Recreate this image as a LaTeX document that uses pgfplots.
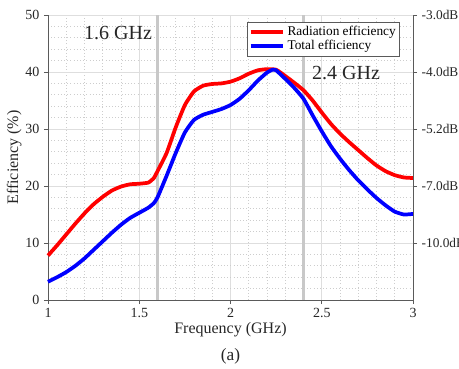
\documentclass[border=0pt]{standalone}
\usepackage{fontspec}
\setmainfont{Liberation Serif}
\usepackage{pgfplots}
\pgfplotsset{compat=1.18}
\definecolor{axgray}{RGB}{90,90,90}
\definecolor{gridmaj}{RGB}{222,222,222}
\definecolor{gridmin}{RGB}{205,205,205}
\definecolor{vline}{RGB}{200,200,200}
\begin{document}
\begin{tikzpicture}
\path[use as bounding box] (-36pt,-51pt) rectangle (308.25pt,225pt);
\begin{axis}[
  name=ax,
  scale only axis,
  width=273.75pt, height=213.75pt,
  xmin=1, xmax=3, ymin=0, ymax=50,
  xtick={1,1.5,2,2.5,3},
  xticklabels={1,1.5,2,2.5,3},
  ytick={0,10,20,30,40,50},
  minor x tick num=4,
  minor y tick num=4,
  grid=both,
  major grid style={gridmaj, line width=0.6pt},
  minor grid style={gridmin, dotted, line width=0.5pt},
  axis line style={axgray, line width=0.6pt},
  tick style={axgray, line width=0.6pt},
  tick align=outside,
  major tick length=3pt,
  minor tick length=0pt,
  axis y line*=left,
  axis x line*=bottom,
  /pgf/number format/assume math mode=true,
  tick label style={font=\fontsize{10.5}{12}\selectfont, text=black!85},
  xlabel={Frequency (GHz)},
  ylabel={Efficiency (\%)},
  label style={font=\fontsize{12}{14}\selectfont, text=black!85},
  xlabel style={yshift=4pt},
  ylabel style={yshift=-4pt},
  legend style={at={(0.545,0.975)}, anchor=north west, draw=axgray, line width=0.6pt,
    font=\fontsize{10}{11}\selectfont, inner sep=1pt, row sep=-2pt,
    cells={anchor=west}},
  legend image code/.code={\draw[#1, line width=3pt] (0,0) -- (0.85cm,0);},
  clip=false,
]
\addplot[vline, line width=2.4pt, forget plot] coordinates {(1.6,0) (1.6,50)};
\addplot[vline, line width=2.4pt, forget plot] coordinates {(2.4,0) (2.4,50)};
\addplot[red, line width=2.8pt, smooth, tension=0.3] coordinates {
(1.00,7.8) (1.05,9.6) (1.10,11.5) (1.15,13.4) (1.20,15.2) (1.25,16.8) (1.30,18.1)
(1.35,19.2) (1.40,19.9) (1.45,20.3) (1.50,20.4) (1.55,20.6) (1.58,21.4) (1.60,22.6)
(1.65,25.8) (1.70,30.3) (1.75,34.2) (1.80,36.6) (1.85,37.6) (1.90,37.9) (1.95,38.0)
(2.00,38.3) (2.05,38.9) (2.10,39.7) (2.15,40.3) (2.20,40.5) (2.25,40.4) (2.30,39.3)
(2.35,38.1) (2.40,36.8) (2.45,35.0) (2.50,32.9) (2.55,30.9) (2.60,29.2) (2.65,27.7)
(2.70,26.3) (2.75,24.9) (2.80,23.6) (2.85,22.6) (2.90,21.9) (2.95,21.5) (3.00,21.4)};
\addlegendentry{Radiation efficiency}
\addplot[blue, line width=2.8pt, smooth, tension=0.3] coordinates {
(1.00,3.2) (1.05,4.0) (1.10,4.9) (1.15,6.0) (1.20,7.3) (1.25,8.8) (1.30,10.3)
(1.35,11.8) (1.40,13.2) (1.45,14.4) (1.50,15.3) (1.55,16.2) (1.58,17.0) (1.60,18.0)
(1.65,21.8) (1.70,25.8) (1.75,29.4) (1.80,31.6) (1.85,32.5) (1.90,33.0) (1.95,33.5)
(2.00,34.2) (2.05,35.3) (2.10,36.8) (2.15,38.5) (2.20,39.9) (2.23,40.4) (2.25,40.3)
(2.30,38.8) (2.35,37.2) (2.40,35.3) (2.45,32.4) (2.50,29.6) (2.55,27.0) (2.60,24.8)
(2.65,22.8) (2.70,21.0) (2.75,19.4) (2.80,17.9) (2.85,16.6) (2.90,15.5) (2.95,15.0) (3.00,15.1)};
\addlegendentry{Total efficiency}
\node[font=\fontsize{15}{17}\selectfont, text=black!85] at (axis cs:1.384,46.9) {1.6 GHz};
\node[font=\fontsize{15}{17}\selectfont, text=black!85] at (axis cs:2.633,39.9) {2.4 GHz};
\node[font=\fontsize{13}{15}\selectfont, text=black!85] at (axis description cs:0.5,0) [yshift=-42pt] {(a)};
\end{axis}
\begin{axis}[
  scale only axis,
  width=273.75pt, height=213.75pt,
  xmin=1, xmax=3, ymin=0, ymax=50,
  axis x line=none,
  axis y line*=right,
  ytick={10,20,30,40,50},
  yticklabels={-10.0dB,-7.0dB,-5.2dB,-4.0dB,-3.0dB},
  axis line style={axgray, line width=0.6pt},
  tick style={axgray, line width=0.6pt},
  tick align=outside,
  major tick length=3pt,
  tick label style={font=\fontsize{10}{12}\selectfont, text=black!85},
]
\addplot[draw=none] coordinates {(1,0) (3,50)};
\end{axis}
\end{tikzpicture}
\end{document}
